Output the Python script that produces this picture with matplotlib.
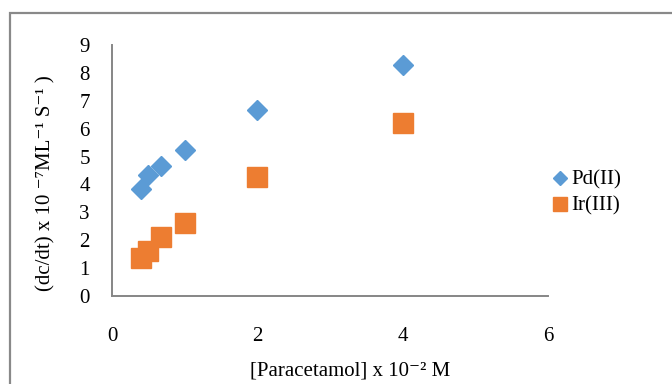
import matplotlib.pyplot as plt
from matplotlib.patches import Rectangle

plt.rcParams['font.family'] = ['Liberation Serif', 'DejaVu Serif']

conc = [0.4, 0.5, 0.67, 1.0, 2.0, 4.0]
pd_rate = [3.83, 4.34, 4.66, 5.23, 6.67, 8.28]
ir_rate = [1.35, 1.62, 2.13, 2.63, 4.27, 6.21]

fig = plt.figure(figsize=(6.72, 3.84), dpi=100)
ax = fig.add_axes([0.1667, 0.229, 0.6488, 0.654])

# outer chart border (cropped at right/bottom in the original)
fig.patches.append(Rectangle((10 / 672, -0.1), 1.2, (384 - 13.5) / 384 + 0.1,
                             transform=fig.transFigure, fill=False,
                             edgecolor='#898989', linewidth=1.6))

ax.plot(conc, pd_rate, linestyle='none', marker='D', markersize=10,
        color='#5B9BD5', label='Pd(II)')
ax.plot(conc, ir_rate, linestyle='none', marker='s', markersize=14,
        color='#ED7D31', label='Ir(III)')

ax.set_xlim(0, 6)
ax.set_ylim(0, 9)
ax.set_xticks([0, 2, 4, 6])
ax.set_yticks(range(0, 10))
ax.tick_params(length=0, labelsize=15)
ax.tick_params(axis='x', pad=22)
ax.tick_params(axis='y', pad=16)
for s in ['top', 'right']:
    ax.spines[s].set_visible(False)
for s in ['left', 'bottom']:
    ax.spines[s].set_color('#868686')
    ax.spines[s].set_linewidth(1.4)

ax.set_xlabel('[Paracetamol] x 10⁻² M', fontsize=15)
ax.xaxis.set_label_coords(0.545, -0.26)
ax.set_ylabel('(dc/dt) x 10 ⁻⁷ML⁻¹ S⁻¹ )', fontsize=15)
ax.yaxis.set_label_coords(-0.13, 0.45)

ax.legend(loc='center left', bbox_to_anchor=(0.977, 0.41), frameon=False,
          fontsize=15, handlelength=0.7, handletextpad=0.2, markerscale=0.7,
          labelspacing=0.3, borderaxespad=0.3)

fig.savefig('out.png', dpi=100)
